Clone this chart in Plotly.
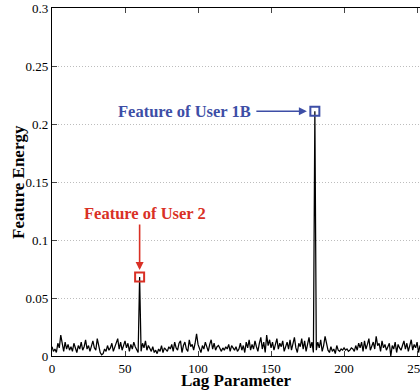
import plotly.graph_objects as go

lag = list(range(0, 254))
energy = [
    0.008, 0.004, 0.006, 0.003, 0.011, 0.007, 0.018, 0.009, 0.004, 0.012, 0.006, 0.010, 0.005, 0.008, 0.004, 0.011, 0.007, 0.003, 0.009, 0.006,
    0.012, 0.005, 0.008, 0.014, 0.006, 0.009, 0.004, 0.010, 0.013, 0.007, 0.005, 0.015, 0.008, 0.003, 0.001, 0.002, 0.006, 0.004, 0.009, 0.005,
    0.007, 0.011, 0.004, 0.008, 0.010, 0.015, 0.006, 0.012, 0.005, 0.009, 0.013, 0.007, 0.011, 0.004, 0.010, 0.006, 0.012, 0.008, 0.005, 0.003,
    0.068,
    0.004, 0.011, 0.007, 0.013, 0.005, 0.009, 0.006, 0.004, 0.008, 0.003, 0.005, 0.002, 0.006, 0.004, 0.009, 0.003, 0.007, 0.005, 0.004,
    0.008, 0.006, 0.010, 0.004, 0.012, 0.007, 0.005, 0.011, 0.013, 0.003, 0.009, 0.012, 0.006, 0.004, 0.014, 0.008, 0.010, 0.005, 0.011, 0.019,
    0.010, 0.007, 0.003, 0.009, 0.006, 0.012, 0.008, 0.004, 0.010, 0.014, 0.006, 0.011, 0.005, 0.008, 0.009, 0.006, 0.004, 0.007, 0.005, 0.008,
    0.006, 0.010, 0.004, 0.009, 0.007, 0.005, 0.008, 0.004, 0.006, 0.011, 0.005, 0.009, 0.003, 0.012, 0.007, 0.014, 0.005, 0.010, 0.006, 0.013,
    0.008, 0.004, 0.011, 0.016, 0.006, 0.012, 0.003, 0.018, 0.009, 0.014, 0.007, 0.012, 0.005, 0.010, 0.015, 0.006, 0.011, 0.008, 0.013, 0.004,
    0.009, 0.012, 0.006, 0.014, 0.005, 0.010, 0.016, 0.007, 0.003, 0.011, 0.008, 0.015, 0.006, 0.013, 0.004, 0.010, 0.016, 0.007, 0.012, 0.003,
    0.211,
    0.005, 0.012, 0.007, 0.014, 0.004, 0.009, 0.017, 0.011, 0.005, 0.003, 0.008, 0.004, 0.006, 0.002, 0.009, 0.005, 0.004, 0.006, 0.005,
    0.007, 0.005, 0.006, 0.004, 0.005, 0.007, 0.006, 0.004, 0.009, 0.005, 0.011, 0.007, 0.012, 0.004, 0.013, 0.006, 0.010, 0.015, 0.005, 0.008,
    0.012, 0.006, 0.017, 0.009, 0.011, 0.004, 0.013, 0.007, 0.010, 0.005, 0.008, 0.011, 0.000, 0.009, 0.006, 0.012, 0.003, 0.010, 0.007, 0.005,
    0.009, 0.013, 0.006, 0.011, 0.004, 0.008, 0.014, 0.005, 0.010, 0.007, 0.012, 0.003, 0.009, 0.006,
]

user2_lag = [60]
user2_energy = [0.068]
user1b_lag = [180]
user1b_energy = [0.211]

x_ticks = [0, 50, 100, 150, 200, 250]
y_ticks = [0, 0.05, 0.1, 0.15, 0.2, 0.25, 0.3]
y_tick_labels = ["0", "0.05", "0.1", "0.15", "0.2", "0.25", "0.3"]

RED = "#d93025"
BLUE = "#3d4ea6"
FONT = "Liberation Serif, Times New Roman, Times, serif"

fig = go.Figure()
fig.add_trace(go.Scatter(x=lag, y=energy, mode="lines",
                         line=dict(color="black", width=1.25), hoverinfo="skip"))
fig.add_trace(go.Scatter(x=user2_lag, y=user2_energy, mode="markers",
                         marker=dict(symbol="square-open", size=9, color=RED, line=dict(width=2, color=RED))))
fig.add_trace(go.Scatter(x=user1b_lag, y=user1b_energy, mode="markers",
                         marker=dict(symbol="square-open", size=9, color=BLUE, line=dict(width=2, color=BLUE))))

# arrows
fig.add_annotation(x=user2_lag[0], y=user2_energy[0], xref="x", yref="y",
                   ax=0, ay=-54, text="", showarrow=True, arrowhead=2, arrowsize=1,
                   arrowwidth=1.6, arrowcolor=RED, standoff=7)
fig.add_annotation(x=user1b_lag[0], y=user1b_energy[0], xref="x", yref="y",
                   ax=-60, ay=0, text="", showarrow=True, arrowhead=2, arrowsize=1,
                   arrowwidth=1.6, arrowcolor=BLUE, standoff=8)
fig.add_annotation(x=64, y=0.123, xref="x", yref="y", text="<b>Feature of User 2</b>",
                   showarrow=False, font=dict(family=FONT, size=16.5, color=RED))
fig.add_annotation(x=90.8, y=0.211, xref="x", yref="y", text="<b>Feature of User 1B</b>",
                   showarrow=False, font=dict(family=FONT, size=16.5, color=BLUE))
# axis titles
fig.add_annotation(x=0.5, y=0, xref="paper", yref="paper", yanchor="top",
                   yshift=-13, text="<b>Lag Parameter</b>", showarrow=False,
                   font=dict(family=FONT, size=17, color="black"))
fig.add_annotation(x=0, y=0.5, xref="paper", yref="paper", xanchor="center", yanchor="middle",
                   xshift=-34, textangle=-90, text="<b>Feature Energy</b>", showarrow=False,
                   font=dict(family=FONT, size=17, color="black"))

fig.update_layout(
    width=420, height=392,
    margin=dict(l=52, r=0, t=8, b=36),
    paper_bgcolor="white", plot_bgcolor="white",
    showlegend=False,
    font=dict(family=FONT, size=13, color="black"),
    xaxis=dict(range=[0, 252], tickvals=x_ticks, ticks="inside", ticklen=5,
               showline=True, linecolor="black", linewidth=1.2, mirror="ticks",
               showgrid=False, zeroline=False, automargin=False, ticklabeloverflow="allow",
               tickfont=dict(family=FONT, size=13)),
    yaxis=dict(range=[0, 0.3], tickvals=y_ticks, ticktext=y_tick_labels, ticks="inside", ticklen=5,
               showline=True, linecolor="black", linewidth=1.2, mirror=False,
               showgrid=True, gridcolor="#bdbdbd", griddash="1px,2px", gridwidth=1,
               zeroline=False, automargin=False, ticklabeloverflow="allow",
               tickfont=dict(family=FONT, size=13)),
)

fig.write_html("out.html", config={"displayModeBar": False},
               post_script="document.body.style.margin='0px';")
